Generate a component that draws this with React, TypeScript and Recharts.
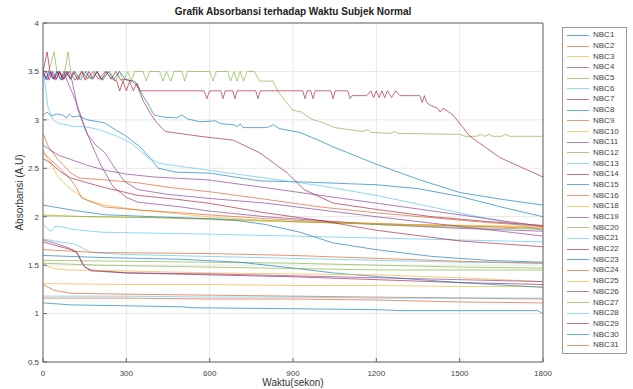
import { LineChart, Line, XAxis, YAxis, CartesianGrid, Legend, ReferenceLine, Label } from 'recharts';

type Pt = [number, number];

const FONT = '"Liberation Sans", Arial, sans-serif';

// time (s), absorbance (A.U)
const nbc1: Pt[] = [[0, 3.05], [15, 3.08], [30, 3.04], [50, 3.06], [70, 3.05], [85, 3.02], [95, 3.06], [105, 3.03], [130, 3.04], [160, 3.0], [220, 2.97], [260, 2.9], [295, 2.84], [350, 2.72], [390, 2.59], [415, 2.5], [480, 2.46], [600, 2.45], [780, 2.37], [925, 2.36], [1200, 2.33], [1350, 2.29], [1500, 2.21], [1650, 2.1], [1800, 2.0]];
const nbc2: Pt[] = [[0, 2.86], [20, 2.72], [54, 2.59], [101, 2.45], [130, 2.4], [223, 2.38], [342, 2.35], [461, 2.3], [594, 2.26], [800, 2.18], [1000, 2.1], [1200, 2.04], [1400, 1.99], [1600, 1.94], [1800, 1.9]];
const nbc3: Pt[] = [[0, 2.7], [15, 2.6], [29, 2.55], [54, 2.41], [101, 2.28], [162, 2.17], [223, 2.12], [342, 2.07], [594, 2.0], [800, 1.96], [1000, 1.94], [1300, 1.92], [1800, 1.89]];
const nbc4: Pt[] = [[0, 3.5], [12, 3.42], [25, 3.5], [38, 3.42], [50, 3.5], [62, 3.42], [75, 3.5], [86, 3.41], [110, 3.25], [133, 3.07], [150, 2.92], [169, 2.79], [205, 2.55], [252, 2.31], [300, 2.2], [342, 2.15], [500, 2.1], [594, 2.06], [800, 2.0], [1000, 1.96], [1200, 1.92], [1500, 1.88], [1800, 1.85]];
const nbc5: Pt[] = [[0, 3.5], [20, 3.5], [40, 3.7], [50, 3.5], [75, 3.45], [90, 3.7], [100, 3.5], [130, 3.42], [150, 3.5], [170, 3.42], [190, 3.5], [210, 3.42], [240, 3.5], [260, 3.4], [275, 3.5], [290, 3.4], [305, 3.5], [318, 3.4], [330, 3.5], [360, 3.5], [372, 3.4], [384, 3.5], [420, 3.5], [432, 3.4], [444, 3.5], [460, 3.4], [472, 3.5], [500, 3.5], [510, 3.4], [520, 3.5], [600, 3.5], [612, 3.4], [624, 3.5], [665, 3.5], [675, 3.4], [688, 3.5], [698, 3.4], [710, 3.5], [722, 3.4], [735, 3.5], [760, 3.5], [770, 3.45], [780, 3.4], [828, 3.4], [845, 3.3], [870, 3.2], [900, 3.1], [930, 3.08], [960, 3.02], [972, 3.0], [1000, 2.98], [1050, 2.92], [1100, 2.9], [1150, 2.88], [1170, 2.9], [1180, 2.87], [1250, 2.86], [1265, 2.88], [1280, 2.86], [1500, 2.85], [1520, 2.83], [1560, 2.83], [1575, 2.85], [1590, 2.83], [1605, 2.85], [1620, 2.83], [1650, 2.83], [1665, 2.85], [1680, 2.83], [1800, 2.83]];
const nbc6: Pt[] = [[0, 3.55], [8, 3.35], [18, 3.13], [36, 3.0], [60, 2.96], [86, 2.95], [110, 2.93], [150, 2.93], [200, 2.9], [260, 2.84], [317, 2.76], [378, 2.61], [420, 2.55], [594, 2.48], [800, 2.4], [1000, 2.32], [1200, 2.22], [1400, 2.1], [1600, 1.98], [1800, 1.86]];
const nbc7: Pt[] = [[0, 3.5], [15, 3.7], [25, 3.5], [40, 3.42], [55, 3.5], [75, 3.42], [95, 3.5], [115, 3.41], [140, 3.5], [160, 3.42], [180, 3.5], [200, 3.42], [225, 3.5], [250, 3.42], [266, 3.4], [276, 3.3], [288, 3.4], [300, 3.3], [312, 3.4], [325, 3.3], [338, 3.38], [350, 3.3], [580, 3.3], [590, 3.22], [600, 3.3], [640, 3.3], [648, 3.22], [656, 3.3], [683, 3.3], [691, 3.22], [699, 3.3], [766, 3.3], [774, 3.22], [782, 3.3], [935, 3.3], [943, 3.22], [951, 3.3], [964, 3.3], [972, 3.22], [980, 3.3], [1036, 3.3], [1044, 3.22], [1052, 3.3], [1097, 3.3], [1105, 3.22], [1113, 3.25], [1165, 3.25], [1180, 3.3], [1190, 3.23], [1200, 3.3], [1210, 3.23], [1220, 3.3], [1230, 3.23], [1240, 3.3], [1255, 3.23], [1270, 3.3], [1285, 3.25], [1357, 3.25], [1365, 3.18], [1373, 3.25], [1381, 3.18], [1395, 3.15], [1420, 3.12], [1430, 3.08], [1440, 3.12], [1476, 3.05], [1537, 2.83], [1645, 2.61], [1800, 2.41]];
const nbc8: Pt[] = [[0, 3.5], [10, 3.42], [20, 3.5], [35, 3.42], [50, 3.5], [65, 3.41], [80, 3.5], [100, 3.42], [115, 3.5], [135, 3.41], [155, 3.5], [175, 3.42], [195, 3.5], [215, 3.41], [235, 3.5], [255, 3.42], [275, 3.5], [300, 3.41], [330, 3.4], [349, 3.3], [375, 3.18], [400, 3.05], [430, 3.03], [480, 3.02], [500, 3.05], [520, 3.01], [565, 2.98], [620, 2.99], [640, 2.96], [685, 2.95], [700, 2.93], [710, 2.96], [720, 2.92], [806, 2.92], [830, 2.95], [850, 2.91], [925, 2.87], [1000, 2.78], [1045, 2.72], [1202, 2.54], [1357, 2.38], [1500, 2.25], [1650, 2.18], [1800, 2.12]];
const nbc9: Pt[] = [[0, 2.66], [30, 2.58], [54, 2.52], [101, 2.38], [120, 2.3], [140, 2.19], [223, 2.1], [342, 2.07], [594, 2.02], [800, 1.98], [1000, 1.95], [1300, 1.92], [1800, 1.88]];
const nbc10: Pt[] = [[0, 2.02], [150, 2.0], [400, 1.99], [700, 1.96], [1000, 1.94], [1300, 1.92], [1800, 1.9]];
const nbc11: Pt[] = [[0, 3.5], [15, 3.41], [30, 3.5], [45, 3.41], [60, 3.5], [75, 3.42], [90, 3.5], [105, 3.4], [126, 3.1], [160, 2.85], [190, 2.74], [223, 2.66], [259, 2.5], [295, 2.36], [342, 2.28], [450, 2.23], [594, 2.19], [800, 2.14], [1000, 2.07], [1200, 2.0], [1500, 1.9], [1800, 1.8]];
const nbc12: Pt[] = [[0, 2.01], [200, 2.0], [594, 1.98], [900, 1.95], [1200, 1.92], [1500, 1.89], [1800, 1.87]];
const nbc13: Pt[] = [[0, 1.92], [15, 1.88], [29, 1.85], [43, 1.9], [60, 1.9], [105, 1.87], [208, 1.84], [400, 1.83], [600, 1.82], [900, 1.8], [1200, 1.78], [1500, 1.76], [1800, 1.74]];
const nbc14: Pt[] = [[0, 3.45], [12, 3.5], [22, 3.41], [35, 3.5], [48, 3.42], [60, 3.5], [70, 3.41], [85, 3.5], [98, 3.42], [110, 3.5], [125, 3.41], [140, 3.5], [152, 3.41], [165, 3.5], [180, 3.42], [195, 3.5], [210, 3.41], [228, 3.5], [245, 3.42], [262, 3.5], [280, 3.41], [300, 3.42], [320, 3.4], [340, 3.35], [360, 3.2], [390, 3.05], [410, 2.97], [440, 2.88], [565, 2.83], [685, 2.79], [780, 2.66], [880, 2.45], [940, 2.28], [1045, 2.14], [1213, 2.07], [1400, 2.0], [1600, 1.95], [1800, 1.91]];
const nbc15: Pt[] = [[0, 2.12], [101, 2.07], [223, 2.02], [400, 2.0], [594, 1.98], [700, 1.96], [800, 1.92], [925, 1.84], [1044, 1.73], [1200, 1.66], [1400, 1.59], [1600, 1.55], [1800, 1.53]];
const nbc16: Pt[] = [[0, 1.3], [20, 1.27], [40, 1.24], [100, 1.21], [300, 1.2], [600, 1.19], [900, 1.18], [1200, 1.17], [1500, 1.16], [1800, 1.15]];
const nbc18: Pt[] = [[0, 1.31], [300, 1.3], [600, 1.3], [900, 1.29], [1200, 1.29], [1500, 1.28], [1800, 1.28]];
const nbc19: Pt[] = [[0, 2.74], [30, 2.68], [60, 2.63], [101, 2.59], [160, 2.53], [223, 2.48], [300, 2.44], [400, 2.41], [594, 2.38], [800, 2.3], [1000, 2.22], [1200, 2.14], [1400, 2.06], [1600, 1.98], [1800, 1.9]];
const nbc20: Pt[] = [[0, 1.55], [300, 1.54], [594, 1.53], [900, 1.52], [1200, 1.5], [1500, 1.48], [1800, 1.47]];
const nbc21: Pt[] = [[0, 1.77], [60, 1.74], [110, 1.72], [140, 1.68], [173, 1.63], [300, 1.61], [594, 1.59], [900, 1.57], [1200, 1.55], [1500, 1.53], [1800, 1.52]];
const nbc22: Pt[] = [[0, 1.74], [50, 1.7], [101, 1.66], [125, 1.62], [140, 1.52], [151, 1.48], [173, 1.45], [300, 1.42], [594, 1.4], [900, 1.38], [1200, 1.35], [1500, 1.32], [1800, 1.3]];
const nbc23: Pt[] = [[0, 1.6], [200, 1.58], [500, 1.56], [709, 1.53], [900, 1.47], [1045, 1.42], [1213, 1.38], [1500, 1.32], [1800, 1.27]];
const nbc24: Pt[] = [[0, 1.16], [300, 1.16], [600, 1.15], [900, 1.15], [1200, 1.14], [1500, 1.12], [1800, 1.11]];
const nbc25: Pt[] = [[0, 1.5], [50, 1.46], [100, 1.45], [300, 1.44], [594, 1.42], [900, 1.41], [1200, 1.4], [1500, 1.37], [1800, 1.33]];
const nbc26: Pt[] = [[0, 1.76], [40, 1.73], [90, 1.68], [120, 1.64], [135, 1.56], [151, 1.48], [173, 1.44], [300, 1.42], [594, 1.41], [900, 1.39], [1200, 1.37], [1500, 1.35], [1800, 1.33]];
const nbc27: Pt[] = [[0, 1.52], [200, 1.5], [594, 1.48], [1213, 1.45], [1800, 1.45]];
const nbc28: Pt[] = [[0, 1.18], [300, 1.18], [600, 1.17], [900, 1.17], [1200, 1.16], [1500, 1.16], [1800, 1.16]];
const nbc29: Pt[] = [[0, 2.6], [30, 2.55], [60, 2.47], [100, 2.4], [160, 2.35], [223, 2.3], [342, 2.22], [480, 2.18], [594, 2.14], [800, 2.04], [1000, 1.96], [1200, 1.86], [1500, 1.75], [1800, 1.69]];
const nbc30: Pt[] = [[0, 1.11], [100, 1.09], [300, 1.08], [500, 1.07], [540, 1.06], [900, 1.05], [1200, 1.04], [1300, 1.03], [1500, 1.03], [1780, 1.03], [1800, 1.0]];
const nbc31: Pt[] = [[0, 1.66], [200, 1.63], [594, 1.62], [900, 1.6], [1200, 1.57], [1500, 1.54], [1800, 1.52]];

const seriesNames = ['NBC1', 'NBC2', 'NBC3', 'NBC4', 'NBC5', 'NBC6', 'NBC7', 'NBC8', 'NBC9', 'NBC10', 'NBC11', 'NBC12', 'NBC13', 'NBC14', 'NBC15', 'NBC16', 'NBC18', 'NBC19', 'NBC20', 'NBC21', 'NBC22', 'NBC23', 'NBC24', 'NBC25', 'NBC26', 'NBC27', 'NBC28', 'NBC29', 'NBC30', 'NBC31'];
const seriesValues = [nbc1, nbc2, nbc3, nbc4, nbc5, nbc6, nbc7, nbc8, nbc9, nbc10, nbc11, nbc12, nbc13, nbc14, nbc15, nbc16, nbc18, nbc19, nbc20, nbc21, nbc22, nbc23, nbc24, nbc25, nbc26, nbc27, nbc28, nbc29, nbc30, nbc31];

const xTicks = [0, 300, 600, 900, 1200, 1500, 1800];
const yTicks = [0.5, 1, 1.5, 2, 2.5, 3, 3.5, 4];

// matlab default line colour order
const palette = ['#0072BD', '#D95319', '#EDB120', '#7E2F8E', '#77AC30', '#4DBEEE', '#A2142F'];

const series = seriesNames.map((name, i) => ({
  name,
  color: palette[i % palette.length],
  data: seriesValues[i].map(([t, v]) => ({ t, v })),
}));

const tickStyle = { fontSize: 8, fill: '#444', fontFamily: FONT };

const LegendBox = () => (
  <div style={{
    border: '1px solid #999', background: '#fff', width: 63, padding: '2px 0',
    fontFamily: FONT, fontSize: 8, color: '#444',
  }}>
    {series.map((s) => (
      <div key={s.name} style={{ display: 'flex', alignItems: 'center', height: 10.69 }}>
        <div style={{ width: 22, marginLeft: 4, borderTop: `1px solid ${s.color}`, opacity: 0.6 }} />
        <span style={{ marginLeft: 4, lineHeight: '10px' }}>{s.name}</span>
      </div>
    ))}
  </div>
);

const App = () => (
  <div style={{ position: 'absolute', left: 0, top: 0, width: 633, height: 389, background: '#fff' }}>
    <LineChart width={633} height={389} margin={{ top: 23, right: 90, bottom: 0, left: 0 }}>
      <CartesianGrid stroke="#e8e8e8" />
      <XAxis
        type="number" dataKey="t" domain={[0, 1800]} ticks={xTicks} height={27}
        tickSize={-4} tickMargin={12} stroke="#666" tick={tickStyle} allowDataOverflow
      >
        <Label value="Waktu(sekon)" position="insideBottom" offset={3}
          style={{ fontSize: 10, fill: '#333', fontFamily: FONT }} />
      </XAxis>
      <YAxis
        type="number" domain={[0.5, 4]} ticks={yTicks} width={43}
        tickSize={-4} tickMargin={8} stroke="#666" tick={tickStyle} allowDataOverflow
      >
        <Label value="Absorbansi (A.U)" position="insideLeft" angle={-90} offset={19}
          style={{ fontSize: 10, fill: '#333', fontFamily: FONT, textAnchor: 'middle' }} />
      </YAxis>
      <ReferenceLine x={1800} stroke="#666" />
      <ReferenceLine y={4} stroke="#666" />
      {series.map((s) => (
        <Line
          key={s.name} data={s.data} dataKey="v" name={s.name} type="linear"
          stroke={s.color} strokeWidth={1} strokeOpacity={0.62} dot={false}
          isAnimationActive={false}
        />
      ))}
      <Legend
        layout="horizontal" align="center" verticalAlign="middle"
        wrapperStyle={{ left: 562, top: 27, width: 65 }}
        content={() => <LegendBox />}
      />
    </LineChart>
    <div style={{
      position: 'absolute', left: 43, width: 500, top: 6, textAlign: 'center',
      fontSize: 10, fontWeight: 'bold', color: '#222', fontFamily: FONT,
    }}>
      Grafik Absorbansi terhadap Waktu Subjek Normal
    </div>
  </div>
);

export default App;
